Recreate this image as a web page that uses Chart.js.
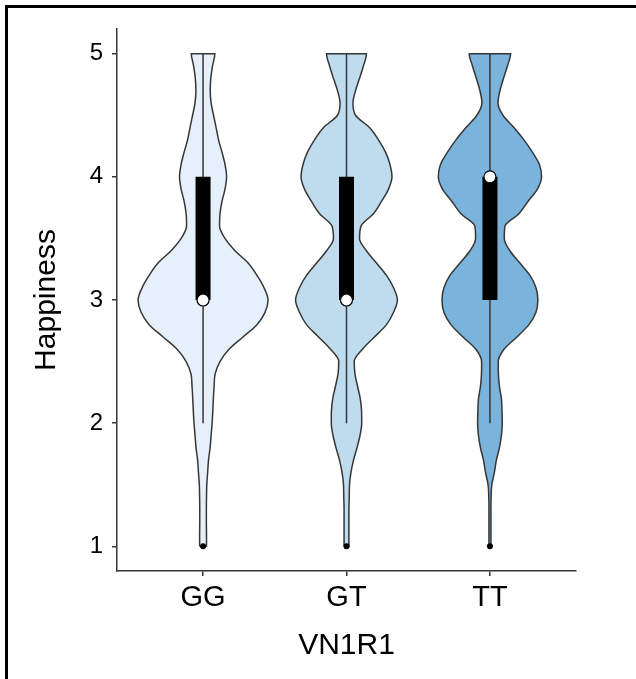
<!DOCTYPE html>
<html>
<head>
<meta charset="utf-8">
<title>Happiness by VN1R1</title>
<script src="https://cdn.jsdelivr.net/npm/chart.js@4.4.1/dist/chart.umd.min.js"></script>
<style>
  html, body { margin: 0; padding: 0; background: #fff; overflow: hidden; }
  #wrap { position: relative; width: 636px; height: 679px; overflow: hidden; }
  #frame {
    position: absolute; left: 5px; top: 5px; width: 700px; height: 700px;
    border-left: 3px solid #000; border-top: 3px solid #000;
  }
  #chart { position: absolute; left: 0; top: 0; }
</style>
</head>
<body>
<div id="wrap">
  <div id="frame"></div>
  <canvas id="chart" width="636" height="679"></canvas>
</div>
<script>
const categories = ["GG", "GT", "TT"];

const densityY = [1.0, 1.1, 1.2, 1.3, 1.4, 1.5, 1.6, 1.7, 1.8, 1.9,
  2.0, 2.1, 2.2, 2.3, 2.4, 2.5, 2.6, 2.7, 2.8, 2.9,
  3.0, 3.1, 3.2, 3.3, 3.4, 3.5, 3.6, 3.7, 3.8, 3.9,
  4.0, 4.1, 4.2, 4.3, 4.4, 4.5, 4.6, 4.7, 4.8, 4.9, 5.0];

// violin half width (in category units) at each densityY value
const halfWidthGG = [0.024, 0.024, 0.023, 0.023, 0.024, 0.026, 0.032, 0.038, 0.049, 0.056,
  0.063, 0.068, 0.072, 0.077, 0.084, 0.118, 0.181, 0.279, 0.376, 0.432,
  0.453, 0.425, 0.376, 0.314, 0.223, 0.153, 0.115, 0.118, 0.132, 0.153,
  0.164, 0.153, 0.132, 0.108, 0.091, 0.073, 0.056, 0.050, 0.054, 0.066, 0.082];
const halfWidthGT = [0.017, 0.017, 0.017, 0.017, 0.019, 0.021, 0.031, 0.049, 0.073, 0.094,
  0.106, 0.105, 0.096, 0.077, 0.059, 0.054, 0.111, 0.195, 0.279, 0.328,
  0.355, 0.328, 0.279, 0.209, 0.139, 0.091, 0.101, 0.188, 0.244, 0.293,
  0.317, 0.303, 0.272, 0.223, 0.160, 0.063, 0.045, 0.063, 0.091, 0.118, 0.139];
const halfWidthTT = [0.007, 0.007, 0.007, 0.007, 0.008, 0.013, 0.031, 0.045, 0.066, 0.080,
  0.086, 0.084, 0.080, 0.066, 0.059, 0.058, 0.098, 0.188, 0.272, 0.321,
  0.334, 0.321, 0.279, 0.209, 0.139, 0.100, 0.105, 0.202, 0.265, 0.331,
  0.360, 0.345, 0.296, 0.237, 0.167, 0.091, 0.056, 0.070, 0.095, 0.122, 0.144];

// box plot stats
const whiskerLow = [2, 2, 2];
const whiskerHigh = [5, 5, 5];
const boxLow = [3, 3, 3];
const boxHigh = [4, 4, 4];
const medians = [3, 3, 4];
const outliers = [1, 1, 1];

const yTicks = [1, 2, 3, 4, 5];

const halfWidths = [halfWidthGG, halfWidthGT, halfWidthTT];
const violinFills = ["#e5f0fa", "#bfdcee", "#7ab3dc"];
const lineGrey = "#363636";
const font = "'Liberation Sans', Arial, sans-serif";

const datasets = [];
categories.forEach((cat, i) => {
  const pos = i + 1;
  const w = halfWidths[i];
  const left = densityY.map((y, k) => ({ x: pos - w[k], y: y }));
  const right = densityY.map((y, k) => ({ x: pos + w[k], y: y })).reverse();

  // monotone along y keeps the flat top/bottom edges straight
  datasets.push({
    type: "line",
    label: cat,
    data: [...left, ...right, left[0]],
    indexAxis: "y",
    cubicInterpolationMode: "monotone",
    borderColor: lineGrey,
    borderWidth: 1.5,
    backgroundColor: violinFills[i],
    fill: "shape",
    pointRadius: 0,
    order: 5,
  });
  // whisker
  datasets.push({
    type: "line",
    data: [{ x: pos, y: whiskerLow[i] }, { x: pos, y: whiskerHigh[i] }],
    borderColor: lineGrey,
    borderWidth: 1.5,
    pointRadius: 0,
    fill: false,
    order: 4,
  });
  // box
  datasets.push({
    type: "line",
    data: [{ x: pos, y: boxLow[i] }, { x: pos, y: boxHigh[i] }],
    borderColor: "#000",
    borderWidth: 15,
    borderCapStyle: "butt",
    pointRadius: 0,
    fill: false,
    order: 3,
  });
});

datasets.push({
  type: "scatter",
  data: medians.map((m, i) => ({ x: i + 1, y: m })),
  pointRadius: 6,
  pointBackgroundColor: "#fff",
  pointBorderColor: "#000",
  pointBorderWidth: 1.2,
  order: 2,
});
datasets.push({
  type: "scatter",
  data: outliers.map((o, i) => ({ x: i + 1, y: o })),
  pointRadius: 3,
  pointBackgroundColor: "#000",
  pointBorderColor: "#000",
  pointBorderWidth: 0,
  order: 1,
});

new Chart(document.getElementById("chart"), {
  type: "scatter",
  data: { datasets: datasets },
  options: {
    responsive: false,
    animation: false,
    layout: { padding: { left: 0, right: 60, top: 29, bottom: 0 } },
    plugins: {
      legend: { display: false },
      tooltip: { enabled: false },
    },
    scales: {
      x: {
        type: "linear",
        min: 0.4,
        max: 3.6,
        afterBuildTicks: (scale) => {
          scale.ticks = categories.map((c, i) => ({ value: i + 1 }));
        },
        afterFit: (scale) => {
          scale.height = 108;
        },
        ticks: {
          callback: (value) => categories[value - 1],
          font: { family: font, size: 29 },
          color: "#000",
          padding: 5,
          maxRotation: 0,
        },
        grid: { drawOnChartArea: false, tickLength: 5, color: lineGrey, lineWidth: 1.5 },
        border: { color: lineGrey, width: 1.5 },
        title: {
          display: true,
          text: "VN1R1",
          font: { family: font, size: 30 },
          color: "#000",
          padding: { top: 0, bottom: 15 },
        },
      },
      y: {
        type: "linear",
        min: 0.8,
        max: 5.2,
        afterBuildTicks: (scale) => {
          scale.ticks = yTicks.map((v) => ({ value: v }));
        },
        afterFit: (scale) => {
          scale.width = 117;
        },
        ticks: {
          font: { family: font, size: 24 },
          color: "#000",
          padding: 9,
        },
        grid: { drawOnChartArea: false, tickLength: 5, color: lineGrey, lineWidth: 1.5 },
        border: { color: lineGrey, width: 1.5 },
        title: {
          display: true,
          text: "Happiness",
          font: { family: font, size: 30 },
          color: "#000",
          padding: { top: 29, bottom: 0 },
        },
      },
    },
  },
});
</script>
</body>
</html>
